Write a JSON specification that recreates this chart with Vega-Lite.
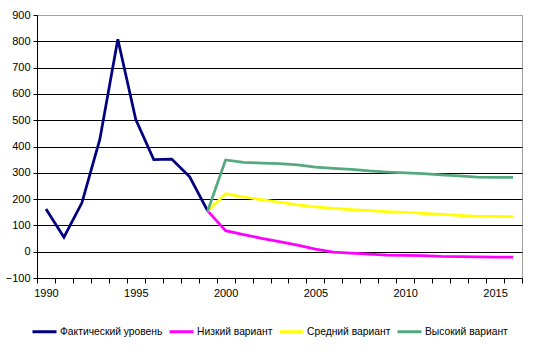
{
  "$schema": "https://vega.github.io/schema/vega-lite/v6.json",
  "width": 485,
  "height": 263,
  "autosize": "none",
  "padding": {"left": 37, "top": 15, "right": 15, "bottom": 75},
  "background": "white",
  "config": {
    "font": "Liberation Sans",
    "view": {"stroke": "#a0a0a0", "strokeWidth": 1}
  },
  "data": {
    "values": [
      {"year": 1990, "series": "Фактический уровень", "value": 162},
      {"year": 1991, "series": "Фактический уровень", "value": 55},
      {"year": 1992, "series": "Фактический уровень", "value": 186},
      {"year": 1993, "series": "Фактический уровень", "value": 428},
      {"year": 1994, "series": "Фактический уровень", "value": 808},
      {"year": 1995, "series": "Фактический уровень", "value": 502},
      {"year": 1996, "series": "Фактический уровень", "value": 350},
      {"year": 1997, "series": "Фактический уровень", "value": 352},
      {"year": 1998, "series": "Фактический уровень", "value": 285},
      {"year": 1999, "series": "Фактический уровень", "value": 155},

      {"year": 1999, "series": "Низкий вариант", "value": 155},
      {"year": 2000, "series": "Низкий вариант", "value": 80},
      {"year": 2001, "series": "Низкий вариант", "value": 65},
      {"year": 2002, "series": "Низкий вариант", "value": 51},
      {"year": 2003, "series": "Низкий вариант", "value": 38},
      {"year": 2004, "series": "Низкий вариант", "value": 25},
      {"year": 2005, "series": "Низкий вариант", "value": 10},
      {"year": 2006, "series": "Низкий вариант", "value": -2},
      {"year": 2007, "series": "Низкий вариант", "value": -5},
      {"year": 2008, "series": "Низкий вариант", "value": -9},
      {"year": 2009, "series": "Низкий вариант", "value": -13},
      {"year": 2010, "series": "Низкий вариант", "value": -14},
      {"year": 2011, "series": "Низкий вариант", "value": -15},
      {"year": 2012, "series": "Низкий вариант", "value": -18},
      {"year": 2013, "series": "Низкий вариант", "value": -19},
      {"year": 2014, "series": "Низкий вариант", "value": -20},
      {"year": 2015, "series": "Низкий вариант", "value": -21},
      {"year": 2016, "series": "Низкий вариант", "value": -21},

      {"year": 1999, "series": "Средний вариант", "value": 155},
      {"year": 2000, "series": "Средний вариант", "value": 220},
      {"year": 2001, "series": "Средний вариант", "value": 208},
      {"year": 2002, "series": "Средний вариант", "value": 198},
      {"year": 2003, "series": "Средний вариант", "value": 188},
      {"year": 2004, "series": "Средний вариант", "value": 178},
      {"year": 2005, "series": "Средний вариант", "value": 170},
      {"year": 2006, "series": "Средний вариант", "value": 165},
      {"year": 2007, "series": "Средний вариант", "value": 160},
      {"year": 2008, "series": "Средний вариант", "value": 156},
      {"year": 2009, "series": "Средний вариант", "value": 152},
      {"year": 2010, "series": "Средний вариант", "value": 150},
      {"year": 2011, "series": "Средний вариант", "value": 146},
      {"year": 2012, "series": "Средний вариант", "value": 142},
      {"year": 2013, "series": "Средний вариант", "value": 138},
      {"year": 2014, "series": "Средний вариант", "value": 134},
      {"year": 2015, "series": "Средний вариант", "value": 134},
      {"year": 2016, "series": "Средний вариант", "value": 133},

      {"year": 1999, "series": "Высокий вариант", "value": 155},
      {"year": 2000, "series": "Высокий вариант", "value": 349},
      {"year": 2001, "series": "Высокий вариант", "value": 340},
      {"year": 2002, "series": "Высокий вариант", "value": 337},
      {"year": 2003, "series": "Высокий вариант", "value": 335},
      {"year": 2004, "series": "Высокий вариант", "value": 330},
      {"year": 2005, "series": "Высокий вариант", "value": 322},
      {"year": 2006, "series": "Высокий вариант", "value": 317},
      {"year": 2007, "series": "Высокий вариант", "value": 313},
      {"year": 2008, "series": "Высокий вариант", "value": 307},
      {"year": 2009, "series": "Высокий вариант", "value": 303},
      {"year": 2010, "series": "Высокий вариант", "value": 300},
      {"year": 2011, "series": "Высокий вариант", "value": 297},
      {"year": 2012, "series": "Высокий вариант", "value": 292},
      {"year": 2013, "series": "Высокий вариант", "value": 288},
      {"year": 2014, "series": "Высокий вариант", "value": 284},
      {"year": 2015, "series": "Высокий вариант", "value": 283},
      {"year": 2016, "series": "Высокий вариант", "value": 283}
    ]
  },
  "mark": {"type": "line", "strokeWidth": 2.75},
  "encoding": {
    "x": {
      "field": "year",
      "type": "ordinal",
      "scale": {
        "type": "band",
        "domain": [1990,1991,1992,1993,1994,1995,1996,1997,1998,1999,2000,2001,2002,2003,2004,2005,2006,2007,2008,2009,2010,2011,2012,2013,2014,2015,2016],
        "paddingInner": 0,
        "paddingOuter": 0
      },
      "axis": {
        "title": null,
        "labelAngle": 0,
        "tickBand": "extent",
        "labelExpr": "datum.value % 5 == 0 ? datum.label : ''",
        "labelFontSize": 11,
        "labelColor": "black",
        "domainColor": "black",
        "tickColor": "black",
        "tickSize": 5,
        "labelPadding": 4,
        "grid": false
      }
    },
    "y": {
      "field": "value",
      "type": "quantitative",
      "scale": {"domain": [-100, 900], "nice": false, "zero": false},
      "axis": {
        "title": null,
        "values": [-100,0,100,200,300,400,500,600,700,800,900],
        "labelFontSize": 11,
        "labelColor": "black",
        "domainColor": "black",
        "tickColor": "black",
        "tickSize": 4,
        "labelPadding": 3,
        "grid": true,
        "gridColor": {"condition": {"test": "datum.value == 900", "value": "#a0a0a0"}, "value": "black"},
        "gridOpacity": 1
      }
    },
    "color": {
      "field": "series",
      "type": "nominal",
      "sort": ["Фактический уровень", "Низкий вариант", "Средний вариант", "Высокий вариант"],
      "scale": {
        "domain": ["Фактический уровень", "Низкий вариант", "Средний вариант", "Высокий вариант"],
        "range": ["#000080", "#ff00ff", "#ffff00", "#55a97f"]
      },
      "legend": {
        "title": null,
        "orient": "none",
        "direction": "horizontal",
        "legendX": -6,
        "legendY": 303,
        "symbolType": "stroke",
        "symbolSize": 576,
        "symbolStrokeWidth": 3,
        "labelFontSize": 10.3,
        "labelColor": "black",
        "labelOffset": 2,
        "columnPadding": 0,
        "labelLimit": 200
      }
    },
    "order": {"field": "year"}
  }
}
